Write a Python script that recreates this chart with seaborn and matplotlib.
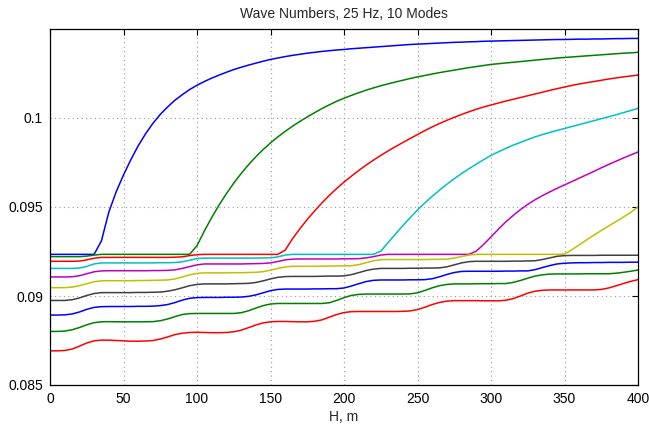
import pandas as pd
import matplotlib
matplotlib.use("Agg")
import matplotlib.pyplot as plt
import seaborn as sns

# H grid, m
depth_m = [0, 5, 10, 15, 20, 25, 30, 35, 40, 45,
           50, 55, 60, 65, 70, 75, 80, 85, 90, 95,
           100, 105, 110, 115, 120, 125, 130, 135, 140, 145,
           150, 155, 160, 165, 170, 175, 180, 185, 190, 195,
           200, 205, 210, 215, 220, 225, 230, 235, 240, 245,
           250, 255, 260, 265, 270, 275, 280, 285, 290, 295,
           300, 305, 310, 315, 320, 325, 330, 335, 340, 345,
           350, 355, 360, 365, 370, 375, 380, 385, 390, 395,
           400]

# wave numbers, one list per mode
mode_1 = [0.09234, 0.09234, 0.09234, 0.09234, 0.09234, 0.09234, 0.09234, 0.09310, 0.09471, 0.09585,
          0.09680, 0.09766, 0.09844, 0.09911, 0.09970, 0.10020, 0.10062, 0.10100, 0.10131, 0.10160,
          0.10184, 0.10205, 0.10224, 0.10241, 0.10257, 0.10272, 0.10285, 0.10297, 0.10308, 0.10319,
          0.10329, 0.10337, 0.10345, 0.10352, 0.10358, 0.10364, 0.10369, 0.10374, 0.10378, 0.10382,
          0.10385, 0.10389, 0.10392, 0.10395, 0.10398, 0.10401, 0.10404, 0.10407, 0.10410, 0.10413,
          0.10415, 0.10417, 0.10419, 0.10421, 0.10423, 0.10425, 0.10426, 0.10428, 0.10429, 0.10431,
          0.10432, 0.10433, 0.10434, 0.10435, 0.10436, 0.10437, 0.10438, 0.10439, 0.10440, 0.10441,
          0.10441, 0.10442, 0.10443, 0.10443, 0.10444, 0.10444, 0.10445, 0.10446, 0.10446, 0.10447,
          0.10447]
mode_2 = [0.09221, 0.09221, 0.09221, 0.09221, 0.09221, 0.09224, 0.09230, 0.09234, 0.09234, 0.09234,
          0.09234, 0.09234, 0.09234, 0.09234, 0.09234, 0.09234, 0.09234, 0.09234, 0.09234, 0.09234,
          0.09283, 0.09365, 0.09441, 0.09511, 0.09575, 0.09634, 0.09688, 0.09737, 0.09782, 0.09823,
          0.09860, 0.09894, 0.09925, 0.09954, 0.09981, 0.10006, 0.10030, 0.10053, 0.10074, 0.10094,
          0.10111, 0.10127, 0.10142, 0.10156, 0.10169, 0.10181, 0.10192, 0.10202, 0.10212, 0.10222,
          0.10231, 0.10239, 0.10247, 0.10255, 0.10262, 0.10269, 0.10276, 0.10283, 0.10289, 0.10295,
          0.10301, 0.10305, 0.10309, 0.10313, 0.10317, 0.10321, 0.10325, 0.10329, 0.10333, 0.10337,
          0.10340, 0.10343, 0.10346, 0.10349, 0.10352, 0.10355, 0.10358, 0.10361, 0.10364, 0.10366,
          0.10369]
mode_3 = [0.09195, 0.09195, 0.09195, 0.09195, 0.09196, 0.09203, 0.09212, 0.09217, 0.09217, 0.09217,
          0.09217, 0.09217, 0.09217, 0.09217, 0.09217, 0.09217, 0.09217, 0.09218, 0.09220, 0.09227,
          0.09232, 0.09234, 0.09234, 0.09234, 0.09234, 0.09234, 0.09234, 0.09234, 0.09234, 0.09234,
          0.09234, 0.09234, 0.09258, 0.09322, 0.09378, 0.09430, 0.09478, 0.09523, 0.09565, 0.09604,
          0.09640, 0.09673, 0.09705, 0.09735, 0.09763, 0.09790, 0.09815, 0.09839, 0.09862, 0.09885,
          0.09907, 0.09929, 0.09950, 0.09969, 0.09987, 0.10004, 0.10020, 0.10035, 0.10049, 0.10062,
          0.10073, 0.10084, 0.10095, 0.10105, 0.10115, 0.10125, 0.10135, 0.10145, 0.10155, 0.10165,
          0.10174, 0.10183, 0.10191, 0.10198, 0.10205, 0.10212, 0.10219, 0.10225, 0.10231, 0.10236,
          0.10241]
mode_4 = [0.09155, 0.09155, 0.09155, 0.09155, 0.09157, 0.09166, 0.09180, 0.09186, 0.09186, 0.09186,
          0.09186, 0.09186, 0.09186, 0.09186, 0.09186, 0.09187, 0.09187, 0.09188, 0.09192, 0.09201,
          0.09210, 0.09213, 0.09213, 0.09213, 0.09213, 0.09213, 0.09213, 0.09213, 0.09213, 0.09214,
          0.09214, 0.09220, 0.09230, 0.09234, 0.09234, 0.09234, 0.09234, 0.09234, 0.09234, 0.09234,
          0.09234, 0.09234, 0.09234, 0.09234, 0.09234, 0.09252, 0.09300, 0.09348, 0.09395, 0.09440,
          0.09483, 0.09523, 0.09560, 0.09595, 0.09628, 0.09659, 0.09688, 0.09715, 0.09741, 0.09766,
          0.09790, 0.09810, 0.09829, 0.09847, 0.09863, 0.09879, 0.09894, 0.09907, 0.09919, 0.09930,
          0.09941, 0.09952, 0.09963, 0.09974, 0.09985, 0.09996, 0.10007, 0.10018, 0.10030, 0.10042,
          0.10054]
mode_5 = [0.09107, 0.09107, 0.09107, 0.09108, 0.09114, 0.09125, 0.09136, 0.09141, 0.09142, 0.09142,
          0.09142, 0.09142, 0.09142, 0.09142, 0.09143, 0.09143, 0.09144, 0.09147, 0.09155, 0.09165,
          0.09175, 0.09180, 0.09180, 0.09180, 0.09180, 0.09180, 0.09180, 0.09181, 0.09182, 0.09183,
          0.09186, 0.09194, 0.09203, 0.09207, 0.09208, 0.09208, 0.09208, 0.09208, 0.09208, 0.09208,
          0.09209, 0.09209, 0.09210, 0.09214, 0.09221, 0.09230, 0.09234, 0.09234, 0.09234, 0.09234,
          0.09234, 0.09234, 0.09234, 0.09234, 0.09234, 0.09234, 0.09234, 0.09234, 0.09252, 0.09290,
          0.09332, 0.09375, 0.09416, 0.09452, 0.09485, 0.09515, 0.09541, 0.09564, 0.09585, 0.09605,
          0.09624, 0.09643, 0.09662, 0.09681, 0.09700, 0.09720, 0.09739, 0.09757, 0.09775, 0.09792,
          0.09809]
mode_6 = [0.09047, 0.09047, 0.09047, 0.09050, 0.09058, 0.09069, 0.09080, 0.09085, 0.09086, 0.09086,
          0.09086, 0.09086, 0.09087, 0.09087, 0.09088, 0.09089, 0.09090, 0.09096, 0.09107, 0.09119,
          0.09127, 0.09130, 0.09130, 0.09130, 0.09130, 0.09131, 0.09131, 0.09132, 0.09133, 0.09137,
          0.09145, 0.09155, 0.09163, 0.09167, 0.09167, 0.09167, 0.09167, 0.09168, 0.09168, 0.09169,
          0.09169, 0.09170, 0.09176, 0.09187, 0.09198, 0.09204, 0.09205, 0.09205, 0.09205, 0.09205,
          0.09205, 0.09205, 0.09206, 0.09206, 0.09207, 0.09213, 0.09222, 0.09230, 0.09234, 0.09234,
          0.09234, 0.09234, 0.09234, 0.09234, 0.09234, 0.09234, 0.09234, 0.09234, 0.09234, 0.09234,
          0.09236, 0.09260, 0.09287, 0.09315, 0.09342, 0.09368, 0.09393, 0.09418, 0.09443, 0.09469,
          0.09500]
mode_7 = [0.08975, 0.08975, 0.08975, 0.08979, 0.08989, 0.09003, 0.09014, 0.09019, 0.09019, 0.09019,
          0.09019, 0.09019, 0.09020, 0.09020, 0.09021, 0.09022, 0.09027, 0.09035, 0.09046, 0.09058,
          0.09065, 0.09068, 0.09068, 0.09068, 0.09068, 0.09069, 0.09070, 0.09071, 0.09076, 0.09085,
          0.09096, 0.09105, 0.09109, 0.09110, 0.09110, 0.09110, 0.09110, 0.09111, 0.09112, 0.09112,
          0.09113, 0.09120, 0.09131, 0.09143, 0.09151, 0.09155, 0.09155, 0.09155, 0.09155, 0.09156,
          0.09156, 0.09157, 0.09157, 0.09158, 0.09164, 0.09175, 0.09186, 0.09193, 0.09195, 0.09195,
          0.09195, 0.09195, 0.09195, 0.09196, 0.09196, 0.09197, 0.09198, 0.09205, 0.09214, 0.09223,
          0.09227, 0.09228, 0.09228, 0.09228, 0.09228, 0.09229, 0.09229, 0.09229, 0.09229, 0.09229,
          0.09229]
mode_8 = [0.08893, 0.08893, 0.08894, 0.08899, 0.08910, 0.08925, 0.08936, 0.08940, 0.08941, 0.08941,
          0.08941, 0.08941, 0.08942, 0.08942, 0.08943, 0.08946, 0.08952, 0.08963, 0.08977, 0.08987,
          0.08991, 0.08992, 0.08992, 0.08992, 0.08993, 0.08993, 0.08994, 0.08998, 0.09006, 0.09018,
          0.09030, 0.09037, 0.09039, 0.09039, 0.09039, 0.09039, 0.09040, 0.09040, 0.09041, 0.09041,
          0.09045, 0.09056, 0.09069, 0.09081, 0.09088, 0.09090, 0.09090, 0.09090, 0.09090, 0.09091,
          0.09091, 0.09092, 0.09097, 0.09108, 0.09121, 0.09132, 0.09138, 0.09139, 0.09139, 0.09139,
          0.09139, 0.09139, 0.09140, 0.09140, 0.09141, 0.09141, 0.09148, 0.09160, 0.09171, 0.09180,
          0.09184, 0.09186, 0.09187, 0.09187, 0.09188, 0.09188, 0.09189, 0.09189, 0.09189, 0.09190,
          0.09190]
mode_9 = [0.08801, 0.08801, 0.08803, 0.08810, 0.08823, 0.08838, 0.08850, 0.08855, 0.08856, 0.08855,
          0.08855, 0.08855, 0.08855, 0.08855, 0.08856, 0.08861, 0.08871, 0.08884, 0.08896, 0.08901,
          0.08902, 0.08902, 0.08902, 0.08902, 0.08902, 0.08902, 0.08906, 0.08917, 0.08932, 0.08946,
          0.08955, 0.08958, 0.08958, 0.08958, 0.08958, 0.08958, 0.08958, 0.08958, 0.08962, 0.08975,
          0.08991, 0.09003, 0.09009, 0.09011, 0.09011, 0.09011, 0.09011, 0.09011, 0.09011, 0.09012,
          0.09018, 0.09031, 0.09046, 0.09058, 0.09065, 0.09068, 0.09068, 0.09068, 0.09069, 0.09069,
          0.09069, 0.09070, 0.09070, 0.09076, 0.09087, 0.09100, 0.09112, 0.09119, 0.09123, 0.09124,
          0.09124, 0.09124, 0.09124, 0.09125, 0.09125, 0.09125, 0.09125, 0.09128, 0.09133, 0.09139,
          0.09146]
mode_10 = [0.08692, 0.08692, 0.08694, 0.08702, 0.08718, 0.08736, 0.08748, 0.08752, 0.08752, 0.08750,
           0.08748, 0.08746, 0.08746, 0.08747, 0.08750, 0.08758, 0.08770, 0.08783, 0.08791, 0.08795,
           0.08796, 0.08795, 0.08794, 0.08794, 0.08795, 0.08799, 0.08808, 0.08822, 0.08837, 0.08849,
           0.08855, 0.08857, 0.08857, 0.08856, 0.08855, 0.08855, 0.08858, 0.08866, 0.08881, 0.08896,
           0.08907, 0.08912, 0.08913, 0.08913, 0.08913, 0.08913, 0.08913, 0.08913, 0.08914, 0.08916,
           0.08924, 0.08937, 0.08952, 0.08964, 0.08971, 0.08974, 0.08974, 0.08974, 0.08974, 0.08973,
           0.08973, 0.08973, 0.08976, 0.08985, 0.09000, 0.09016, 0.09027, 0.09032, 0.09034, 0.09034,
           0.09034, 0.09034, 0.09034, 0.09034, 0.09034, 0.09037, 0.09045, 0.09057, 0.09070, 0.09082,
           0.09092]

mode_colors = ['#0000ff', '#008000', '#ff0000', '#00c0c0', '#c000c0',
               '#c0c000', '#404040', '#0000ff', '#008000', '#ff0000']

y_ticks = [0.085, 0.09, 0.095, 0.1]
y_tick_labels = ['0.085', '0.09', '0.095', '0.1']


def build_frame():
    """Long-form table: one block of rows per mode."""
    modes = [mode_1, mode_2, mode_3, mode_4, mode_5,
             mode_6, mode_7, mode_8, mode_9, mode_10]
    parts = []
    for i, vals in enumerate(modes):
        parts.append(pd.DataFrame({'H': depth_m, 'k': vals, 'mode': f'mode {i + 1}'}))
    return pd.concat(parts, ignore_index=True)


def plot_wave_numbers():
    df = build_frame()
    names = list(dict.fromkeys(df['mode']))
    palette = dict(zip(names, mode_colors))

    sns.set_style("white")
    plt.rcParams['font.family'] = ['Liberation Sans', 'DejaVu Sans']

    fig = plt.figure(figsize=(6.49, 4.28), dpi=100)
    ax = fig.add_axes([50 / 649, 43 / 428, 588 / 649, 356 / 428])

    sns.lineplot(data=df, x='H', y='k', hue='mode', hue_order=names, palette=palette,
                 estimator=None, sort=False, legend=False, linewidth=1.1, ax=ax)

    ax.set_xlim(0, 400)
    ax.set_ylim(0.085, 0.105)
    ax.set_xticks(range(0, 401, 50))
    ax.set_yticks(y_ticks)
    ax.set_yticklabels(y_tick_labels)
    ax.tick_params(direction='in', top=True, right=True, length=4, width=0.8,
                   labelsize=10, colors='black', pad=5)
    ax.grid(True, linestyle=(0, (1, 3)), color='#999999', linewidth=0.8)
    for sp in ax.spines.values():
        sp.set_color('black')
        sp.set_linewidth(0.9)

    ax.set_title('Wave Numbers, 25 Hz, 10 Modes', fontsize=10, pad=8)
    ax.set_xlabel('H, m', fontsize=10, labelpad=3)
    ax.set_ylabel('')

    fig.savefig('out.png', dpi=100)


if __name__ == "__main__":
    plot_wave_numbers()
